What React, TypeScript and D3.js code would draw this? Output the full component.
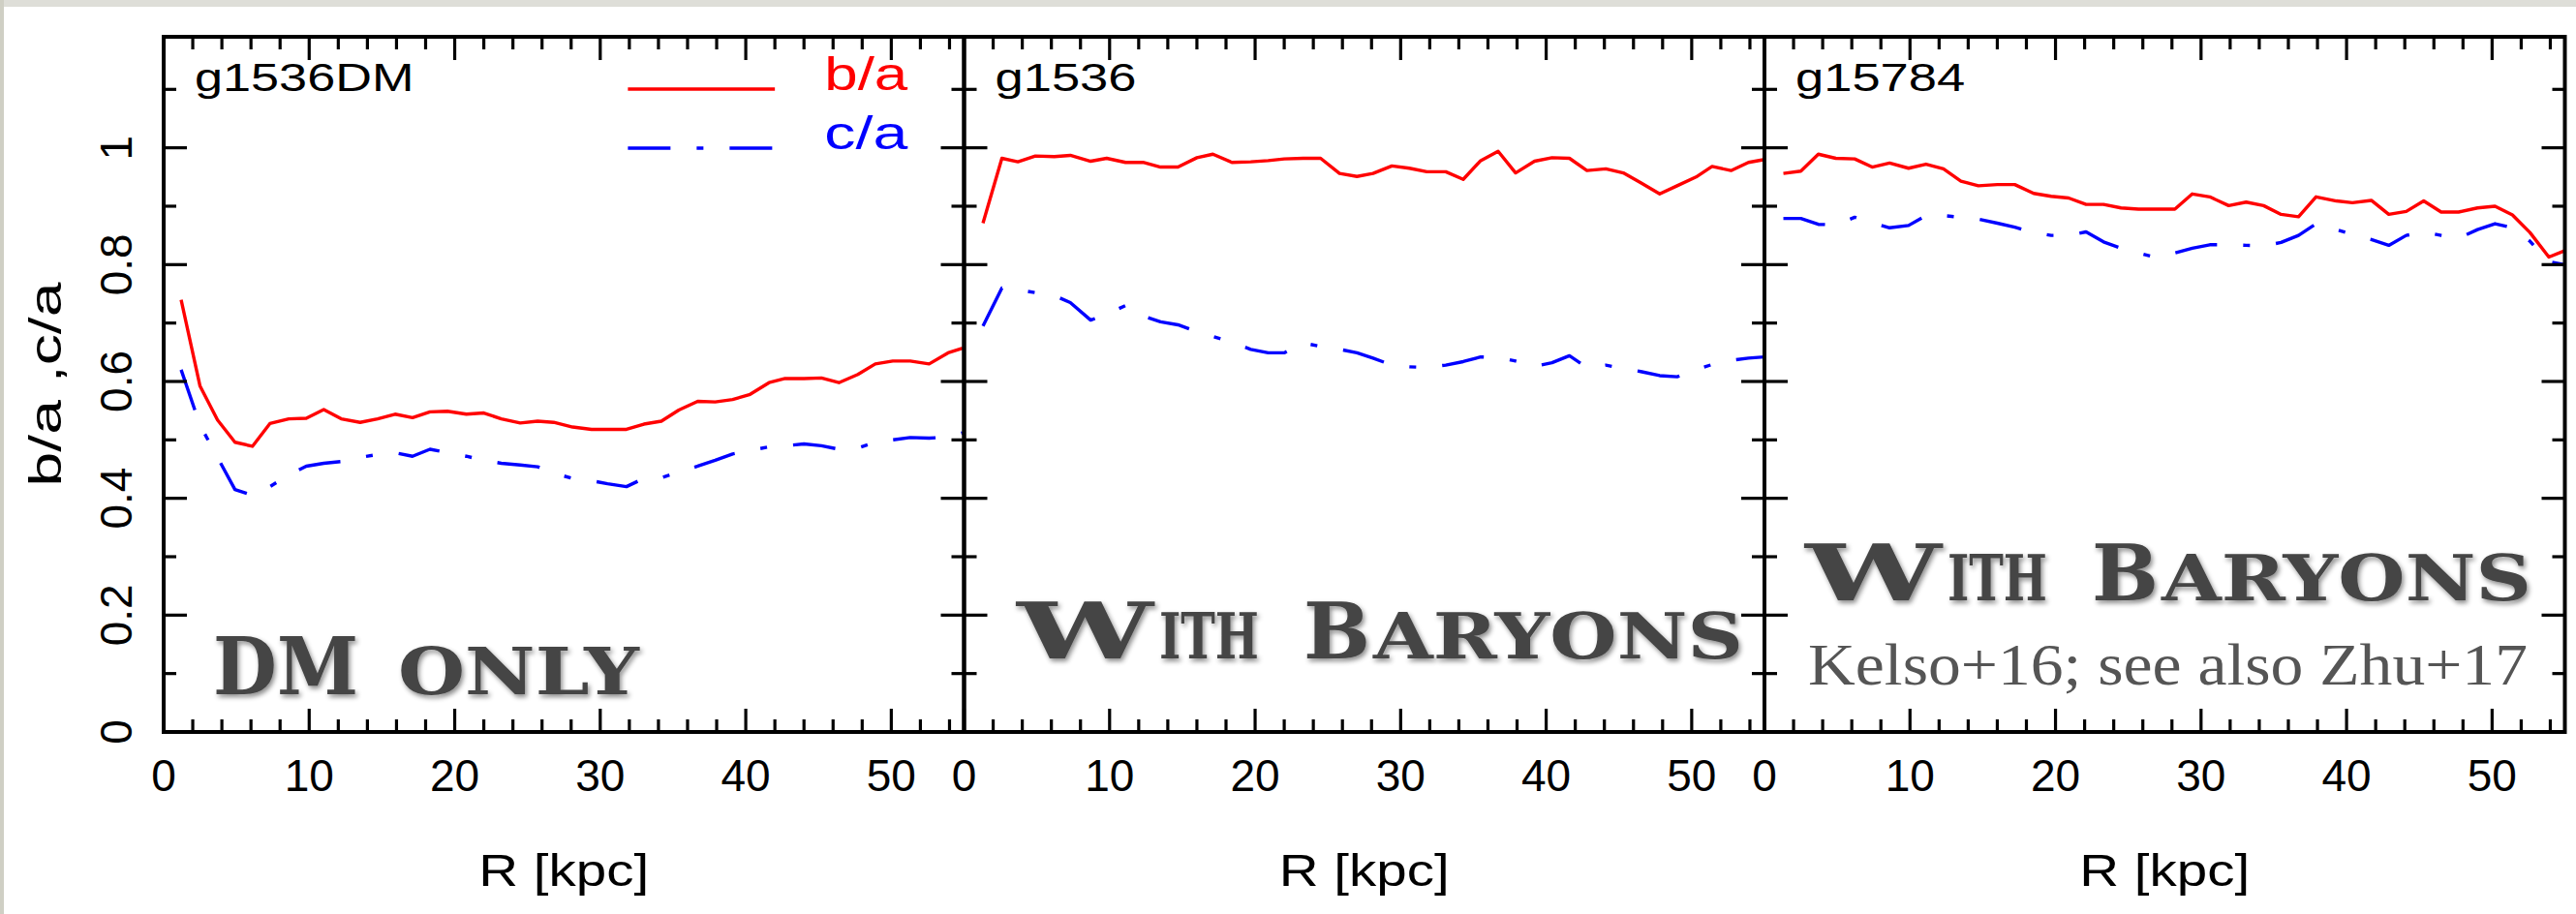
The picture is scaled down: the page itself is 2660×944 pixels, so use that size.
import React from 'react';
import * as d3 from 'd3';

// ---------------- data ----------------
const PANEL_NAMES = ['g1536DM', 'g1536', 'g15784'];

const R1 = [1.2, 2.5, 3.7, 4.9, 6.1, 7.3, 8.6, 9.8, 11.0, 12.2, 13.5, 14.7, 15.9, 17.1, 18.3, 19.5, 20.8, 22.0, 23.2, 24.5, 25.7, 26.8, 28.1, 29.4, 30.5, 31.8, 33.0, 34.2, 35.4, 36.7, 37.9, 39.1, 40.3, 41.6, 42.7, 44.0, 45.2, 46.4, 47.7, 48.9, 50.1, 51.3, 52.6, 53.9, 54.9];
const BA1 = [0.740, 0.592, 0.534, 0.496, 0.489, 0.528, 0.536, 0.537, 0.552, 0.536, 0.530, 0.536, 0.544, 0.538, 0.548, 0.549, 0.544, 0.546, 0.536, 0.529, 0.532, 0.530, 0.522, 0.518, 0.518, 0.518, 0.527, 0.532, 0.551, 0.566, 0.565, 0.569, 0.578, 0.598, 0.605, 0.605, 0.606, 0.598, 0.612, 0.630, 0.635, 0.635, 0.630, 0.649, 0.657];
const CA1 = [0.620, 0.525, 0.470, 0.415, 0.405, 0.420, 0.440, 0.455, 0.460, 0.463, 0.470, 0.475, 0.478, 0.472, 0.484, 0.478, 0.472, 0.465, 0.460, 0.457, 0.454, 0.443, 0.434, 0.430, 0.425, 0.420, 0.434, 0.435, 0.445, 0.455, 0.465, 0.476, 0.482, 0.488, 0.490, 0.493, 0.490, 0.484, 0.486, 0.496, 0.500, 0.504, 0.503, 0.505, 0.512];

const R2 = [1.3, 2.6, 3.7, 4.9, 6.2, 7.3, 8.7, 9.8, 11.1, 12.3, 13.5, 14.7, 16.0, 17.1, 18.4, 19.7, 20.9, 22.0, 23.3, 24.5, 25.8, 27.0, 28.1, 29.4, 30.6, 31.8, 33.1, 34.3, 35.5, 36.7, 37.9, 39.2, 40.4, 41.6, 42.8, 44.1, 45.3, 46.5, 47.8, 49.0, 50.3, 51.4, 52.7, 53.9, 55.0];
const BA2 = [0.871, 0.982, 0.976, 0.986, 0.985, 0.987, 0.977, 0.982, 0.975, 0.975, 0.967, 0.967, 0.983, 0.989, 0.975, 0.976, 0.978, 0.981, 0.982, 0.982, 0.956, 0.951, 0.956, 0.969, 0.965, 0.959, 0.959, 0.946, 0.978, 0.994, 0.957, 0.977, 0.983, 0.982, 0.961, 0.964, 0.957, 0.940, 0.921, 0.935, 0.950, 0.968, 0.961, 0.975, 0.980];
const CA2 = [0.695, 0.760, 0.757, 0.752, 0.747, 0.735, 0.705, 0.715, 0.730, 0.712, 0.702, 0.697, 0.685, 0.677, 0.667, 0.655, 0.649, 0.649, 0.666, 0.660, 0.655, 0.649, 0.640, 0.628, 0.625, 0.624, 0.628, 0.634, 0.642, 0.641, 0.635, 0.626, 0.632, 0.644, 0.624, 0.628, 0.622, 0.617, 0.610, 0.608, 0.620, 0.629, 0.636, 0.640, 0.642];

const R3 = [1.3, 2.5, 3.7, 4.9, 6.2, 7.4, 8.6, 9.9, 11.1, 12.3, 13.5, 14.7, 16.0, 17.2, 18.5, 19.7, 20.9, 22.1, 23.3, 24.5, 25.7, 26.9, 28.2, 29.4, 30.6, 31.9, 33.1, 34.3, 35.5, 36.7, 37.9, 39.3, 40.4, 41.7, 42.9, 44.1, 45.3, 46.5, 47.7, 49.0, 50.2, 51.4, 52.6, 53.9, 55.0];
const BA3 = [0.956, 0.960, 0.989, 0.982, 0.981, 0.967, 0.974, 0.965, 0.972, 0.964, 0.943, 0.935, 0.937, 0.937, 0.922, 0.917, 0.914, 0.903, 0.903, 0.897, 0.895, 0.895, 0.895, 0.921, 0.916, 0.901, 0.907, 0.901, 0.886, 0.882, 0.916, 0.909, 0.906, 0.910, 0.886, 0.891, 0.909, 0.890, 0.890, 0.897, 0.900, 0.885, 0.855, 0.813, 0.824];
const CA3 = [0.879, 0.879, 0.869, 0.868, 0.881, 0.872, 0.863, 0.867, 0.884, 0.884, 0.881, 0.878, 0.871, 0.864, 0.855, 0.850, 0.850, 0.856, 0.839, 0.828, 0.820, 0.812, 0.820, 0.828, 0.834, 0.834, 0.833, 0.832, 0.838, 0.850, 0.870, 0.860, 0.852, 0.843, 0.833, 0.850, 0.856, 0.850, 0.845, 0.860, 0.870, 0.863, 0.840, 0.805, 0.800];

const X_TICKS = [0, 10, 20, 30, 40, 50];
const X_MINOR = [2, 4, 6, 8, 12, 14, 16, 18, 22, 24, 26, 28, 32, 34, 36, 38, 42, 44, 46, 48, 52, 54];
const Y_TICKS = [0, 0.2, 0.4, 0.6, 0.8, 1];
const Y_TICK_LABELS = ['0', '0.2', '0.4', '0.6', '0.8', '1'];
const Y_MINOR = [0.1, 0.3, 0.5, 0.7, 0.9, 1.1];
const LEGEND = [
  { label: 'b/a', color: '#ff0000', dash: null },
  { label: 'c/a', color: '#0000ff', dash: '44 27 7 27' },
];

const PANELS = [
  { name: PANEL_NAMES[0], r: R1, ba: BA1, ca: CA1 },
  { name: PANEL_NAMES[1], r: R2, ba: BA2, ca: CA2 },
  { name: PANEL_NAMES[2], r: R3, ba: BA3, ca: CA3 },
];

// ---------------- layout ----------------
const W = 2660;
const H = 944;
const PLEFT = [169, 995.5, 1822];
const PW = 826.5;
const TOP = 38;
const BOTTOM = 756;
const MAJ = 24;
const MIN = 13;
const SANS = '"Liberation Sans", Arial, sans-serif';
const BIG = '"DejaVu Serif", serif';

const y = d3.scaleLinear().domain([0, 1.19]).range([BOTTOM, TOP]);

function Panel({ idx }: { idx: number }) {
  const p = PANELS[idx];
  const left = PLEFT[idx];
  const x = d3.scaleLinear().domain([0, 55]).range([left, left + PW]);
  const right = left + PW;
  const pts = p.r.map((r, i) => ({ r, ba: p.ba[i], ca: p.ca[i] }));
  const lineBA = d3.line<any>().x((d) => x(d.r)).y((d) => y(d.ba));
  const lineCA = d3.line<any>().x((d) => x(d.r)).y((d) => y(d.ca));
  const tk = { stroke: '#000', strokeWidth: 3.2 };
  return (
    <g>
      {/* data */}
      <path d={lineBA(pts) || ''} fill="none" stroke={LEGEND[0].color} strokeWidth={3.4} strokeLinejoin="round" />
      <path d={lineCA(pts) || ''} fill="none" stroke={LEGEND[1].color} strokeWidth={3.4} strokeDasharray={LEGEND[1].dash as string} strokeLinejoin="round" />
      {/* ticks */}
      {X_TICKS.map((t) => (
        <g key={'xt' + t}>
          <line x1={x(t)} x2={x(t)} y1={BOTTOM} y2={BOTTOM - MAJ} {...tk} />
          <line x1={x(t)} x2={x(t)} y1={TOP} y2={TOP + MAJ} {...tk} />
        </g>
      ))}
      {X_MINOR.map((t) => (
        <g key={'xm' + t}>
          <line x1={x(t)} x2={x(t)} y1={BOTTOM} y2={BOTTOM - MIN} {...tk} />
          <line x1={x(t)} x2={x(t)} y1={TOP} y2={TOP + MIN} {...tk} />
        </g>
      ))}
      {Y_TICKS.map((t) => (
        <g key={'yt' + t}>
          <line x1={left} x2={left + MAJ} y1={y(t)} y2={y(t)} {...tk} />
          <line x1={right} x2={right - MAJ} y1={y(t)} y2={y(t)} {...tk} />
        </g>
      ))}
      {Y_MINOR.map((t) => (
        <g key={'ym' + t}>
          <line x1={left} x2={left + MIN} y1={y(t)} y2={y(t)} {...tk} />
          <line x1={right} x2={right - MIN} y1={y(t)} y2={y(t)} {...tk} />
        </g>
      ))}
      {/* frame */}
      <rect x={left} y={TOP} width={PW} height={BOTTOM - TOP} fill="none" stroke="#000" strokeWidth={4} />
      {/* x tick labels */}
      {X_TICKS.map((t) => (
        <text key={'xl' + t} x={x(t)} y={817} textAnchor="middle" fontFamily={SANS} fontSize={46} fill="#000">
          {t}
        </text>
      ))}
      <text x={(left + right) / 2} y={915} textAnchor="middle" fontFamily={SANS} fontSize={46} textLength={176} lengthAdjust="spacingAndGlyphs" fill="#000">
        R [kpc]
      </text>
      {/* panel name */}
      <text x={left + 32} y={94} fontFamily={SANS} fontSize={40} fill="#000" textLength={p.name.length * 29.2 + (p.name.endsWith('DM') ? 22 : 0)} lengthAdjust="spacingAndGlyphs">
        {p.name}
      </text>
    </g>
  );
}

function BigWord({ parts, filter }: { parts: { t: string; x: number; len: number; size: number }[]; filter: string }) {
  return (
    <g filter={filter}>
      {parts.map((p, i) => (
        <text key={i} x={p.x} y={0} fontFamily={BIG} fontWeight="bold" fontSize={p.size} fill="#454545" textLength={p.len} lengthAdjust="spacingAndGlyphs">
          {p.t}
        </text>
      ))}
    </g>
  );
}

export default function App() {
  const x1 = d3.scaleLinear().domain([0, 55]).range([PLEFT[0], PLEFT[0] + PW]);
  const withBaryons = [
    { t: 'W', x: 0, len: 141, size: 80 },
    { t: 'ITH', x: 147, len: 103, size: 66 },
    { t: 'B', x: 296, len: 69, size: 80 },
    { t: 'ARYONS', x: 368, len: 382, size: 66 },
  ];
  return (
    <svg width={W} height={H} style={{ position: 'absolute', left: 0, top: 0, display: 'block', background: '#fff' }}>
      <defs>
        <filter id="shadow" x="-10%" y="-30%" width="120%" height="170%">
          <feDropShadow dx={2} dy={3} stdDeviation={2.5} floodColor="#000" floodOpacity={0.45} />
        </filter>
      </defs>
      <rect x={0} y={0} width={W} height={H} fill="#fff" />
      <rect x={0} y={0} width={W} height={7} fill="#deded8" />
      <rect x={0} y={0} width={4} height={H} fill="#cfcfc4" />

      {PANELS.map((_, i) => (
        <Panel key={i} idx={i} />
      ))}

      {/* y tick labels (panel 1) */}
      {Y_TICKS.map((t, i) => (
        <text key={'yl' + t} transform={`translate(136,${y(t)}) rotate(-90)`} textAnchor="middle" fontFamily={SANS} fontSize={46} fill="#000">
          {Y_TICK_LABELS[i]}
        </text>
      ))}
      <text transform={`translate(63,${(TOP + BOTTOM) / 2}) rotate(-90)`} textAnchor="middle" fontFamily={SANS} fontSize={46} fill="#000" textLength={211} lengthAdjust="spacingAndGlyphs">
        b/a ,c/a
      </text>

      {/* legend */}
      {LEGEND.map((l, i) => (
        <g key={l.label}>
          <line x1={x1(31.9)} x2={x1(42)} y1={92 + i * 61} y2={92 + i * 61} stroke={l.color} strokeWidth={3.4} strokeDasharray={l.dash || undefined} />
          <text x={x1(45.4)} y={93 + i * 61} fontFamily={SANS} fontSize={48} fill={l.color} textLength={86} lengthAdjust="spacingAndGlyphs">
            {l.label}
          </text>
        </g>
      ))}

      {/* annotations */}
      <g transform="translate(220,717)">
        <BigWord
          filter="url(#shadow)"
          parts={[
            { t: 'DM', x: 0, len: 150, size: 83 },
            { t: 'ONLY', x: 191, len: 249, size: 67 },
          ]}
        />
      </g>
      <g transform="translate(1050,680)">
        <BigWord filter="url(#shadow)" parts={withBaryons} />
      </g>
      <g transform="translate(1864,620)">
        <BigWord filter="url(#shadow)" parts={withBaryons} />
      </g>
      <text x={1867} y={707} fontFamily='"Liberation Serif", serif' fontSize={62} fill="#555" textLength={743} lengthAdjust="spacingAndGlyphs">
        Kelso+16; see also Zhu+17
      </text>
    </svg>
  );
}
